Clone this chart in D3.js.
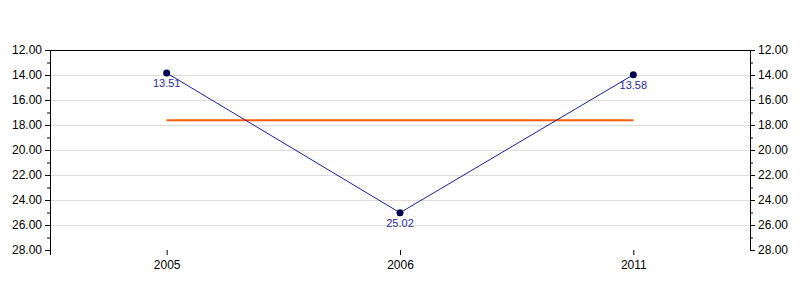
<!DOCTYPE html>
<html>
<head>
<meta charset="utf-8">
<script src="https://d3js.org/d3.v7.min.js"></script>
<style>
  body { margin: 0; background: #fff; }
  text { font-family: "Liberation Sans", Arial, sans-serif; }
</style>
</head>
<body>
<svg id="chart" width="800" height="300"></svg>
<script>
// data
var years = ["2005", "2006", "2011"];
var values = [13.84, 25.02, 13.98];
var valueLabels = ["13.51", "25.02", "13.58"];
var averageValue = 17.62;
var yTicks = [12, 14, 16, 18, 20, 22, 24, 26, 28];
var yMinorTicks = [13, 15, 17, 19, 21, 23, 25, 27];

var margin = {top: 50, right: 50, bottom: 50, left: 50};
var width = 800 - margin.left - margin.right;
var height = 300 - margin.top - margin.bottom;

var svg = d3.select("#chart");
var g = svg.append("g")
  .attr("transform", "translate(" + margin.left + "," + margin.top + ")");

var x = d3.scalePoint()
  .domain(years)
  .range([0, width])
  .padding(0.5);

// inverted axis: 12 at the top
var y = d3.scaleLinear()
  .domain([12, 28])
  .range([0, height]);

// grid lines
g.append("g")
  .selectAll("line")
  .data(yTicks.slice(1, -1))
  .enter().append("line")
  .attr("x1", 0)
  .attr("x2", width)
  .attr("y1", function(d) { return Math.round(y(d)) + 0.5; })
  .attr("y2", function(d) { return Math.round(y(d)) + 0.5; })
  .attr("stroke", "#dddddd");

// minor ticks both sides
function minor(sel, side) {
  sel.append("g")
    .attr("transform", "translate(" + (side == "left" ? 0 : width) + ",0)")
    .call((side == "left" ? d3.axisLeft(y) : d3.axisRight(y))
      .tickValues(yMinorTicks).tickSize(3).tickFormat(""))
    .call(function(a) { a.select(".domain").remove(); });
}

var fmt = d3.format(".2f");

var leftAxis = g.append("g")
  .call(d3.axisLeft(y).tickValues(yTicks).tickSize(5).tickPadding(3).tickFormat(fmt));
var rightAxis = g.append("g")
  .attr("transform", "translate(" + width + ",0)")
  .call(d3.axisRight(y).tickValues(yTicks).tickSize(5).tickPadding(3).tickFormat(fmt));
minor(g, "left");
minor(g, "right");

var xAxis = g.append("g")
  .attr("transform", "translate(0," + height + ")")
  .call(d3.axisBottom(x).tickSize(5).tickPadding(5));

[leftAxis, rightAxis, xAxis].forEach(function(a) {
  a.selectAll("text").attr("font-size", 12).attr("fill", "#000")
    .attr("font-family", "Liberation Sans, Arial, sans-serif");
  a.select(".domain").attr("stroke", "#000");
  a.selectAll("line").attr("stroke", "#000");
});
// drop the outer end ticks of the domain paths
g.selectAll(".domain").each(function() {
  d3.select(this).attr("d", d3.select(this).attr("d").replace(/M-?\d+,/, "M0,").replace(/H-?\d+/, "H0"));
});

// top border
g.append("line")
  .attr("x1", 0).attr("x2", width)
  .attr("y1", 0.5).attr("y2", 0.5)
  .attr("stroke", "#000");

// average line
g.append("line")
  .attr("x1", x(years[0]))
  .attr("x2", x(years[years.length - 1]))
  .attr("y1", y(averageValue))
  .attr("y2", y(averageValue))
  .attr("stroke", "#ff5a0a")
  .attr("stroke-width", 2);

// series line
var line = d3.line()
  .x(function(d, i) { return x(years[i]); })
  .y(function(d) { return y(d); });

g.append("path")
  .datum(values)
  .attr("d", line)
  .attr("fill", "none")
  .attr("stroke", "#1c1ca8")
  .attr("stroke-width", 1);

g.selectAll(".pt")
  .data(values)
  .enter().append("circle")
  .attr("class", "pt")
  .attr("cx", function(d, i) { return x(years[i]); })
  .attr("cy", function(d) { return y(d); })
  .attr("r", 3.5)
  .attr("fill", "#000050");

g.selectAll(".lbl")
  .data(values)
  .enter().append("text")
  .attr("class", "lbl")
  .attr("x", function(d, i) { return x(years[i]); })
  .attr("y", function(d) { return y(d) + 14; })
  .attr("text-anchor", "middle")
  .attr("font-size", 11)
  .attr("fill", "#2a2aa8")
  .text(function(d, i) { return valueLabels[i]; });
</script>
</body>
</html>
